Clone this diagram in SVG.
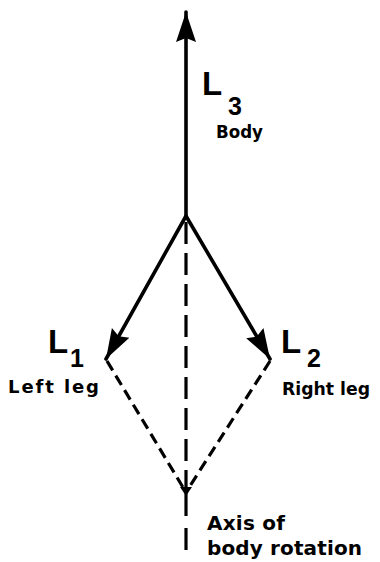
<svg xmlns="http://www.w3.org/2000/svg" width="380" height="562" viewBox="0 0 380 562">
<style>
.solid{stroke:#000;stroke-width:3.6;fill:none;stroke-linecap:round}
.dash{stroke:#000;stroke-width:3.2;fill:none}
.big{font-family:"Liberation Sans",Arial,sans-serif;font-weight:bold;font-size:33px;fill:#000}
.sub{font-family:"Liberation Sans",Arial,sans-serif;font-weight:bold;font-size:25px;fill:#000}
.lbl{font-family:"DejaVu Sans",Verdana,sans-serif;font-weight:bold;font-size:18px;fill:#000}
.lbl2{font-family:"DejaVu Sans",Verdana,sans-serif;font-weight:bold;font-size:20px;fill:#000}
</style>
<defs>
<marker id="ah" markerUnits="userSpaceOnUse" markerWidth="32" markerHeight="24" viewBox="0 0 32 24" refX="30" refY="12" orient="auto">
<path d="M0,2 L30,12 L0,22 L4,12 z" fill="#000"/>
</marker>
</defs>
<g id="connectors">
<line class="solid" x1="186" y1="216" x2="186" y2="12" marker-end="url(#ah)"/>
<line class="solid" x1="186" y1="216" x2="106" y2="359" marker-end="url(#ah)"/>
<line class="solid" x1="186" y1="216" x2="270" y2="359" marker-end="url(#ah)"/>
<line class="dash" x1="186" y1="222" x2="186" y2="490" stroke-dasharray="22 9"/>
<line class="dash" x1="107" y1="361" x2="184" y2="489" stroke-dasharray="11 6"/>
<line class="dash" x1="270" y1="361" x2="188" y2="489" stroke-dasharray="11 6"/>
<path d="M180,487 L192,487 L186,496 z" fill="#000"/>
<line class="dash" x1="186" y1="492" x2="186" y2="516"/>
<line class="dash" x1="186" y1="528" x2="186" y2="550"/>
</g>
<g id="L3">
<text class="big" x="202" y="95">L</text>
<text class="sub" x="228" y="115">3</text>
<text class="lbl" x="216" y="138" textLength="47" lengthAdjust="spacingAndGlyphs">Body</text>
</g>
<g id="L1">
<text class="big" x="48" y="353">L</text>
<text class="sub" x="70" y="367">1</text>
<text class="lbl" x="8" y="393" textLength="91" lengthAdjust="spacing">Left leg</text>
</g>
<g id="L2">
<text class="big" x="281" y="353">L</text>
<text class="sub" x="307" y="367">2</text>
<text class="lbl" x="282" y="395" textLength="88" lengthAdjust="spacingAndGlyphs">Right leg</text>
</g>
<g id="axis">
<text class="lbl2" x="207" y="530" textLength="78" lengthAdjust="spacing">Axis of</text>
<text class="lbl2" x="207" y="555" textLength="155" lengthAdjust="spacing">body rotation</text>
</g>
</svg>
